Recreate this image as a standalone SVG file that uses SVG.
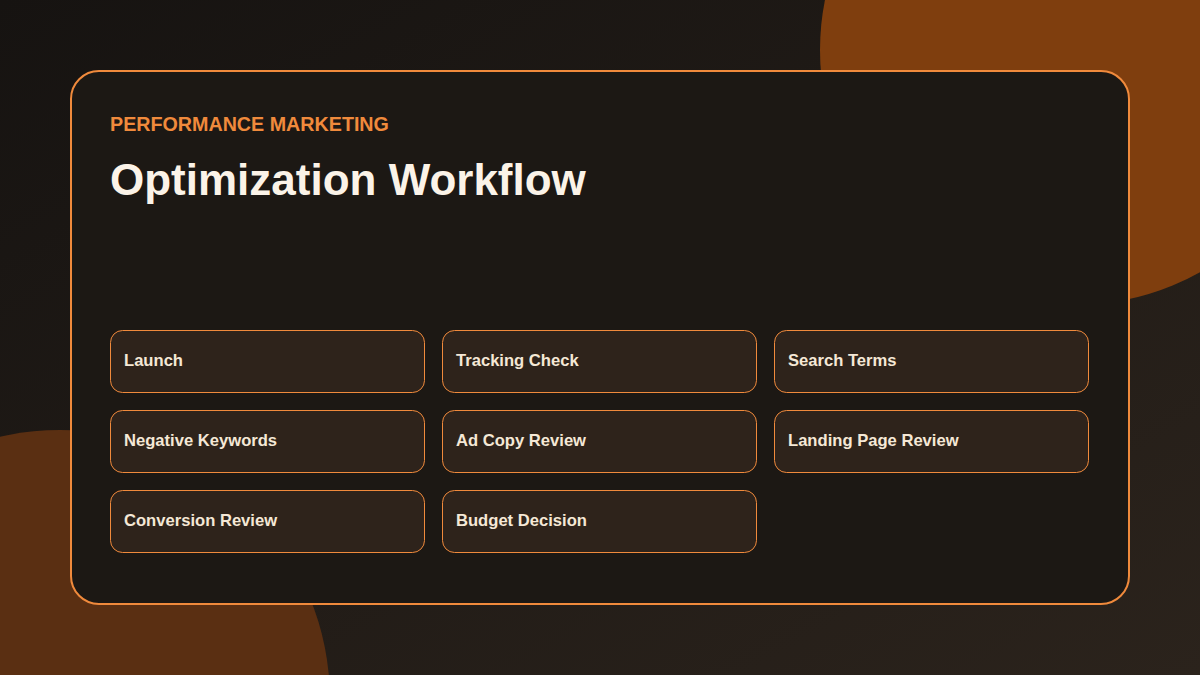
<svg xmlns="http://www.w3.org/2000/svg" width="1200" height="675" viewBox="0 0 1200 675">
<defs>
<linearGradient id="bg" x1="0" y1="0" x2="1" y2="1">
<stop offset="0" stop-color="#161311"/>
<stop offset="1" stop-color="#2b231c"/>
</linearGradient>
<style>
.node rect{fill:#2e231b;stroke:#f08a3c;stroke-width:1}
.node text{font-family:"Liberation Sans",Arial,sans-serif;font-size:16.6px;font-weight:bold;fill:#f5e8d6}
</style>
</defs>
<rect width="1200" height="675" fill="url(#bg)"/>
<circle cx="1075" cy="50" r="255" fill="#7f3e0e"/>
<circle cx="60" cy="700" r="270" fill="#5a2f12"/>
<rect x="71" y="71" width="1058" height="533" rx="28" fill="#1c1814" stroke="#f08a3c" stroke-width="2"/>
<text x="110" y="131" font-family="Liberation Sans, Arial, sans-serif" font-size="19.7" font-weight="bold" fill="#f08a3c">PERFORMANCE MARKETING</text>
<text x="110" y="195" font-family="Liberation Sans, Arial, sans-serif" font-size="44" font-weight="bold" fill="#fbf3e8">Optimization Workflow</text>
<g id="connectors"></g>
<g id="n1" class="node"><rect x="110.5" y="330.5" width="314" height="62" rx="12"/><text x="124" y="366">Launch</text></g>
<g id="n2" class="node"><rect x="442.5" y="330.5" width="314" height="62" rx="12"/><text x="456" y="366">Tracking Check</text></g>
<g id="n3" class="node"><rect x="774.5" y="330.5" width="314" height="62" rx="12"/><text x="788" y="366">Search Terms</text></g>
<g id="n4" class="node"><rect x="110.5" y="410.5" width="314" height="62" rx="12"/><text x="124" y="446">Negative Keywords</text></g>
<g id="n5" class="node"><rect x="442.5" y="410.5" width="314" height="62" rx="12"/><text x="456" y="446">Ad Copy Review</text></g>
<g id="n6" class="node"><rect x="774.5" y="410.5" width="314" height="62" rx="12"/><text x="788" y="446">Landing Page Review</text></g>
<g id="n7" class="node"><rect x="110.5" y="490.5" width="314" height="62" rx="12"/><text x="124" y="526">Conversion Review</text></g>
<g id="n8" class="node"><rect x="442.5" y="490.5" width="314" height="62" rx="12"/><text x="456" y="526">Budget Decision</text></g>
</svg>
